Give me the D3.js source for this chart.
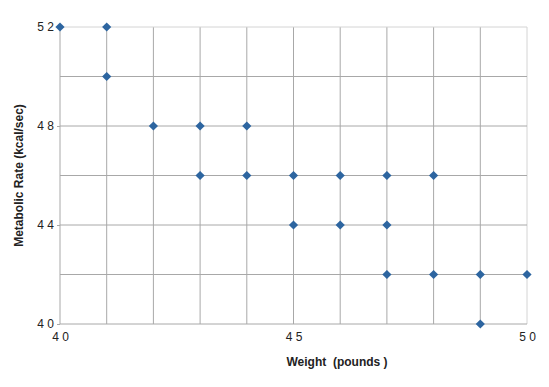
<!DOCTYPE html>
<html>
<head>
<meta charset="utf-8">
<script src="https://cdn.jsdelivr.net/npm/d3@7"></script>
<style>
    body { margin: 0; background: #fff; }
    text { font-family: "Liberation Sans", Arial, sans-serif; }
</style>
</head>
<body>
<div id="chart"></div>
<script>
(function () {
    'use strict';

    // weight (pounds) and metabolic rate (kcal/sec)
    var weights = [40, 41, 41, 42, 43, 44, 43, 44, 45, 46, 47, 48, 45, 46, 47, 47, 48, 49, 50, 49];
    var rates   = [52, 52, 50, 48, 48, 48, 46, 46, 46, 46, 46, 46, 44, 44, 44, 42, 42, 42, 42, 40];
    var xGrid = [40, 41, 42, 43, 44, 45, 46, 47, 48, 49, 50];
    var yGrid = [40, 42, 44, 46, 48, 50, 52];
    var xTickLabels = [40, 45, 50];
    var yTickLabels = [40, 44, 48, 52];

    var width = 549, height = 387;
    var margin = {top: 27, right: 22, bottom: 63, left: 60};

    var svg = d3.select('#chart').append('svg')
        .attr('width', width)
        .attr('height', height);

    var x = d3.scaleLinear().domain([40, 50]).range([margin.left, width - margin.right]);
    var y = d3.scaleLinear().domain([40, 52]).range([height - margin.bottom, margin.top]);

    var spaced = function (d) { return String(d).split('').join(' '); };

    // grid
    svg.append('g').selectAll('line.v')
        .data(xGrid).enter().append('line')
        .attr('x1', function (d) { return x(d); })
        .attr('x2', function (d) { return x(d); })
        .attr('y1', y(40)).attr('y2', y(52))
        .style('stroke', function (d) { return d === 50 ? '#d4d4d4' : '#a8a8a8'; })
        .style('stroke-width', 1);

    svg.append('g').selectAll('line.h')
        .data(yGrid).enter().append('line')
        .attr('y1', function (d) { return y(d); })
        .attr('y2', function (d) { return y(d); })
        .attr('x1', x(40)).attr('x2', x(50))
        .style('stroke', function (d) { return d === 52 ? '#d4d4d4' : '#a8a8a8'; })
        .style('stroke-width', 1);

    // axes
    var yAxis = d3.axisLeft(y).tickValues(yTickLabels).tickSize(3).tickPadding(3).tickFormat(spaced);
    var gy = svg.append('g').attr('transform', 'translate(' + x(40) + ',0)').call(yAxis);
    gy.select('.domain').remove();
    gy.selectAll('line').style('stroke', '#a8a8a8');
    gy.selectAll('text').style('font-size', '12px').style('fill', '#222');

    var xAxis = d3.axisBottom(x).tickValues(xTickLabels).tickSize(0).tickPadding(8).tickFormat(spaced);
    var gx = svg.append('g').attr('transform', 'translate(0,' + y(40) + ')').call(xAxis);
    gx.select('.domain').remove();
    gx.selectAll('text').style('font-size', '12px').style('fill', '#222');

    // titles
    svg.append('text')
        .attr('x', 337).attr('y', 366)
        .attr('text-anchor', 'middle')
        .style('white-space', 'pre')
        .style('font-size', '12px').style('font-weight', 'bold').style('fill', '#222')
        .text('Weight  (pounds )');

    svg.append('text')
        .attr('transform', 'translate(23,' + ((y(40) + y(52)) / 2) + ') rotate(-90)')
        .attr('text-anchor', 'middle')
        .style('font-size', '12px').style('font-weight', 'bold').style('fill', '#222')
        .text('Metabolic Rate (kcal/sec)');

    // points: square turned 45 degrees
    var r = 4.6;
    var diamond = 'M0,' + (-r) + 'L' + r + ',0L0,' + r + 'L' + (-r) + ',0Z';
    svg.append('g').selectAll('path')
        .data(weights).enter().append('path')
        .attr('d', diamond)
        .attr('transform', function (d, i) {
            return 'translate(' + x(d) + ',' + y(rates[i]) + ')';
        })
        .style('fill', '#2d65a0');
})();
</script>
</body>
</html>
